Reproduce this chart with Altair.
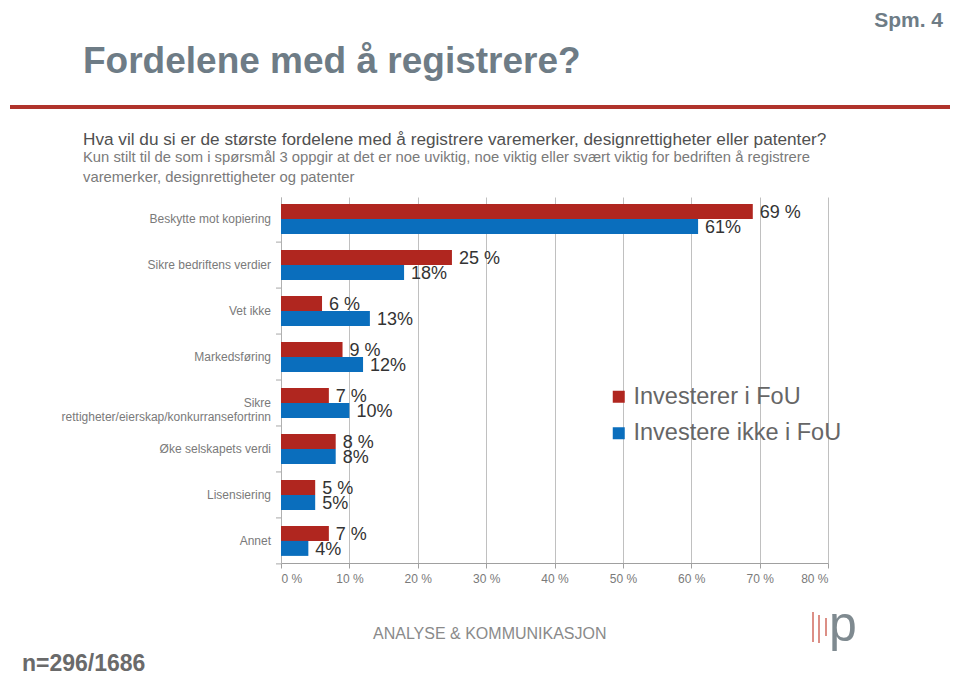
import altair as alt
import pandas as pd

# ---------------- data ----------------
categories = [
    "Beskytte mot kopiering",
    "Sikre bedriftens verdier",
    "Vet ikke",
    "Markedsføring",
    "Sikre rettigheter/eierskap/konkurransefortrinn",
    "Øke selskapets verdi",
    "Lisensiering",
    "Annet",
]
category_labels = [
    "Beskytte mot kopiering",
    "Sikre bedriftens verdier",
    "Vet ikke",
    "Markedsføring",
    "Sikre\nrettigheter/eierskap/konkurransefortrinn",
    "Øke selskapets verdi",
    "Lisensiering",
    "Annet",
]
series = ["Investerer i FoU", "Investere ikke i FoU"]
invest = [69, 25, 6, 9, 7, 8, 5, 7]
no_invest = [61, 18, 13, 12, 10, 8, 5, 4]
x_ticks = [0, 10, 20, 30, 40, 50, 60, 70, 80]

title_text = "Fordelene med å registrere?"
spm_text = "Spm. 4"
question_text = "Hva vil du si er de største fordelene med å registrere varemerker, designrettigheter eller patenter?"
note_line1 = "Kun stilt til de som i spørsmål 3 oppgir at det er noe uviktig, noe viktig eller svært viktig for bedriften å registrere"
note_line2 = "varemerker, designrettigheter og patenter"
footer_text = "ANALYSE & KOMMUNIKASJON"
n_text = "n=296/1686"
logo_text = "p"

rows = []
for c, v in zip(categories, invest):
    rows.append({"kat": c, "serie": series[0], "verdi": v, "etikett": f"{v} %"})
for c, v in zip(categories, no_invest):
    rows.append({"kat": c, "serie": series[1], "verdi": v, "etikett": f"{v}%"})
df = pd.DataFrame(rows)
cat_df = pd.DataFrame({"kat": categories, "navn": category_labels})

# ---------------- layout ----------------
OX, OY = 281, 197          # plot origin on the page
W, H = 547, 366            # plot area
SANS = "Liberation Sans, Arial, sans-serif"
BAR = 15


def px(x):
    return x - OX


def py(y):
    return y - OY


y_scale = alt.Scale(domain=categories, paddingInner=0.344, paddingOuter=0.153)
x_scale = alt.Scale(domain=[0, 80])
x_axis = alt.Axis(
    title=None,
    values=x_ticks,
    labelExpr="datum.value + ' %'",
    labelFontSize=12,
    labelColor="#7a7a7a",
    labelFont=SANS,
    labelPadding=5,
    tickSize=5,
    grid=True,
    gridColor="#c0c0c0",
    domainColor="#a0a0a0",
    tickColor="#a0a0a0",
)
y_enc = alt.Y(
    "kat:N",
    sort=categories,
    scale=y_scale,
    axis=alt.Axis(title=None, labels=False, ticks=False, domainColor="#b0b0b0", grid=False),
)
color_enc = alt.Color(
    "serie:N",
    sort=series,
    scale=alt.Scale(domain=series, range=["#B0261F", "#0A6EBD"]),
    legend=alt.Legend(
        title=None,
        orient="none",
        legendX=326,
        legendY=188,
        labelFontSize=23.5,
        labelColor="#666666",
        labelFont=SANS,
        labelLimit=400,
        symbolType="square",
        symbolSize=144,
        symbolStrokeWidth=0,
        rowPadding=11.5,
        labelOffset=3,
        padding=0,
    ),
)

base = alt.Chart(df)
layers = []
for s, off in zip(series, [-BAR / 2, BAR / 2]):
    sub = base.transform_filter(alt.datum.serie == s)
    layers.append(
        sub.mark_bar(size=BAR, yOffset=off).encode(
            y=y_enc,
            x=alt.X("verdi:Q", stack=None, scale=x_scale, axis=x_axis),
            color=color_enc,
        )
    )
for s, off in zip(series, [-BAR / 2, BAR / 2]):
    sub = base.transform_filter(alt.datum.serie == s)
    layers.append(
        sub.mark_text(align="left", baseline="middle", dx=7, dy=off + 1.5, fontSize=18, color="#333333", font=SANS).encode(
            y=alt.Y("kat:N", sort=categories), x=alt.X("verdi:Q", stack=None), text="etikett:N"
        )
    )

cat_text = alt.Chart(cat_df).mark_text(
    align="right", baseline="middle", fontSize=12, color="#7a7a7a", font=SANS, lineBreak="\n", lineHeight=14
).encode(y=alt.Y("kat:N", sort=categories), x=alt.value(-10), text="navn:N")


def text_layer(txt, x, y, size, color, weight="normal", align="left", baseline="middle"):
    return alt.Chart(pd.DataFrame({"t": [txt]})).mark_text(
        align=align, baseline=baseline, fontSize=size, color=color, fontWeight=weight, font=SANS
    ).encode(text="t:N", x=alt.value(px(x)), y=alt.value(py(y)))


def rule_layer(x1, y1, x2, y2, color, width):
    return alt.Chart(pd.DataFrame({"r": [0]})).mark_rule(color=color, strokeWidth=width).encode(
        x=alt.value(px(x1)), x2=alt.value(px(x2)), y=alt.value(py(y1)), y2=alt.value(py(y2))
    )


# small ticks on the category axis at the band edges (drawn through the y scale)
edge_ticks = alt.Chart(cat_df).mark_rule(color="#a8a8a8", strokeWidth=1, yOffset=23).encode(
    y=alt.Y("kat:N", sort=categories), x=alt.value(-5), x2=alt.value(0)
)

deco = [
    # invisible frame fixing the canvas bounds to the page area
    rule_layer(8.5, 8.5, 951.5, 8.5, "white", 1),
    rule_layer(8.5, 675.5, 951.5, 675.5, "white", 1),
    text_layer(spm_text, 943, 21, 21, "#6E7C86", "bold", "right"),
    text_layer(title_text, 83, 62, 37, "#6E7C86", "bold", "left"),
    rule_layer(10, 107, 950, 107, "#B0332B", 4),
    text_layer(question_text, 83, 140, 17.2, "#505050"),
    text_layer(note_line1, 83, 158, 14.8, "#7a7a7a"),
    text_layer(note_line2, 83, 178, 14.8, "#7a7a7a"),
    text_layer(footer_text, 373, 634, 16, "#8a8a8a"),
    text_layer(n_text, 22, 664, 23, "#6a6a6a", "bold"),
    rule_layer(813, 612, 813, 642, "#D06A5E", 1.5),
    rule_layer(819, 615, 819, 643, "#D06A5E", 1.5),
    rule_layer(826, 618, 826, 636, "#D06A5E", 1.5),
    text_layer(logo_text, 829, 641, 50, "#7f8a90", "normal", "left", "alphabetic"),
]

chart = alt.layer(*layers, cat_text, edge_ticks, *deco).properties(
    width=W,
    height=H,
    padding=0,
    background="white",
).configure_view(strokeWidth=0)

chart.save("out.html", embed_options={"renderer": "svg", "actions": False})
